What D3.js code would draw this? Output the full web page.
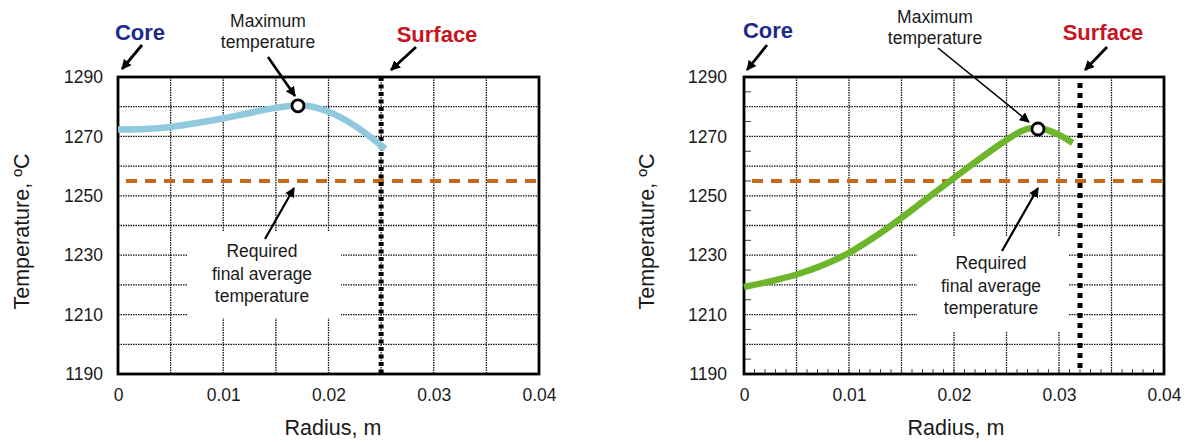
<!DOCTYPE html>
<html>
<head>
<meta charset="utf-8">
<script src="https://cdn.jsdelivr.net/npm/d3@7"></script>
<style>
  body { margin: 0; background: #fff; }
  svg { display: block; font-family: "Liberation Sans", Arial, sans-serif; }
</style>
</head>
<body>
<svg id="chart" width="1187" height="442"></svg>
<script>
// --- DATA ---
const xTicks = [0, 0.01, 0.02, 0.03, 0.04];
const yTicks = [1190, 1210, 1230, 1250, 1270, 1290];
const gridRadius = [0.005, 0.01, 0.015, 0.02, 0.025, 0.03, 0.035];
const gridTemp = [1200, 1210, 1220, 1230, 1240, 1250, 1260, 1270, 1280];
const minorTemp = [1195, 1205, 1215, 1225, 1235, 1245, 1255, 1265, 1275, 1285];
const requiredTemp = 1255;

// left panel
const leftRadius = [0, 0.0025, 0.005, 0.0075, 0.01, 0.0125, 0.015, 0.0175, 0.02, 0.0225, 0.0254];
const leftTemp = [1272.3, 1272.5, 1273.2, 1274.5, 1276.1, 1277.9, 1279.6, 1280.5, 1278.3, 1273.6, 1265.8];
const leftMax = [0.0171, 1280.3];
const leftSurface = 0.025;

// right panel
const rightRadius = [0, 0.0025, 0.005, 0.0075, 0.01, 0.0125, 0.015, 0.0175, 0.02, 0.0225, 0.025, 0.0265, 0.0275, 0.0285, 0.03, 0.0313];
const rightTemp = [1219.3, 1221.2, 1223.5, 1226.6, 1230.8, 1236.3, 1242.6, 1249.3, 1256, 1262.6, 1268.8, 1271.9, 1272.8, 1272.5, 1270.5, 1267.8];
const rightMax = [0.028, 1272.5];
const rightSurface = 0.032;

const maxLabel = ["Maximum", "temperature"];
const reqLabel = ["Required", "final average", "temperature"];

const svg = d3.select("#chart");

svg.append("defs").append("marker")
    .attr("id", "arrow").attr("viewBox", "0 0 10 10")
    .attr("refX", 9).attr("refY", 5)
    .attr("markerWidth", 10).attr("markerHeight", 10)
    .attr("markerUnits", "userSpaceOnUse").attr("orient", "auto")
  .append("path").attr("d", "M0,0 L10,5 L0,10 z").attr("fill", "#000");

function arrow(g, x1, y1, x2, y2, w) {
    g.append("line")
        .attr("x1", x1).attr("y1", y1).attr("x2", x2).attr("y2", y2)
        .attr("stroke", "#000").attr("stroke-width", w)
        .attr("marker-end", "url(#arrow)");
}

function drawPanel(cfg) {
    const x = d3.scaleLinear().domain([0, 0.04]).range([cfg.left, cfg.right]);
    const y = d3.scaleLinear().domain([1190, 1290]).range([cfg.bottom, cfg.top]);
    const g = svg.append("g");

    // grid (dotted)
    g.selectAll(".gx").data(gridRadius).join("line")
        .attr("x1", d => x(d)).attr("x2", d => x(d))
        .attr("y1", y(1290)).attr("y2", y(1190))
        .attr("stroke", "#111").attr("stroke-width", 1.3).attr("stroke-dasharray", "1.5,1");
    g.selectAll(".gy").data(gridTemp).join("line")
        .attr("x1", x(0)).attr("x2", x(0.04))
        .attr("y1", d => y(d)).attr("y2", d => y(d))
        .attr("stroke", "#111").attr("stroke-width", 1.3).attr("stroke-dasharray", "1.5,1");

    // minor ticks (right panel only)
    if (cfg.minor) {
        g.selectAll(".my").data(minorTemp).join("line")
            .attr("x1", x(0)).attr("x2", x(0) + 7)
            .attr("y1", d => y(d)).attr("y2", d => y(d))
            .attr("stroke", "#444").attr("stroke-width", 1);
        const minorR = d3.range(1, 40).map(i => i / 1000);
        g.selectAll(".mx").data(minorR).join("line")
            .attr("x1", d => x(d)).attr("x2", d => x(d))
            .attr("y1", y(1190)).attr("y2", y(1190) - 5)
            .attr("stroke", "#444").attr("stroke-width", 1);
    }

    // white box behind "Required..." text
    g.append("rect")
        .attr("x", cfg.mask[0]).attr("y", cfg.mask[1])
        .attr("width", cfg.mask[2]).attr("height", cfg.mask[3])
        .attr("fill", "#fff");

    // frame
    g.append("rect")
        .attr("x", x(0)).attr("y", y(1290))
        .attr("width", x(0.04) - x(0)).attr("height", y(1190) - y(1290))
        .attr("fill", "none").attr("stroke", "#000").attr("stroke-width", 2.8);

    // axes
    const yAxis = g.append("g").attr("transform", `translate(${x(0)},0)`)
        .call(d3.axisLeft(y).tickValues(yTicks).tickSize(0).tickPadding(cfg.yPad)
            .tickFormat(d3.format("d")));
    const xAxis = g.append("g").attr("transform", `translate(0,${y(1190)})`)
        .call(d3.axisBottom(x).tickValues(xTicks).tickSize(0).tickPadding(15)
            .tickFormat(d => d === 0 ? "0" : String(d)));
    [yAxis, xAxis].forEach(a => {
        a.select(".domain").remove();
        a.selectAll("text").attr("font-size", 17.5).attr("fill", "#1a1a1a")
            .attr("font-family", "'Liberation Sans', Arial, sans-serif");
    });

    // required average temperature
    g.append("line")
        .attr("x1", x(0) + 8).attr("x2", x(0.04))
        .attr("y1", y(requiredTemp)).attr("y2", y(requiredTemp))
        .attr("stroke", "#c56a16").attr("stroke-width", 4).attr("stroke-dasharray", "11,8");

    // surface
    g.append("line")
        .attr("x1", x(cfg.surface)).attr("x2", x(cfg.surface))
        .attr("y1", y(1290) + cfg.surfTop).attr("y2", y(1190))
        .attr("stroke", "#000").attr("stroke-width", 5).attr("stroke-dasharray", cfg.surfDash);

    // temperature profile
    const line = d3.line().x((d, i) => x(cfg.radius[i])).y(d => y(d))
        .curve(d3.curveCatmullRom.alpha(0.5));
    g.append("path").datum(cfg.temp)
        .attr("d", line)
        .attr("fill", "none").attr("stroke", cfg.color).attr("stroke-width", 6.5);

    // maximum marker
    g.append("circle")
        .attr("cx", x(cfg.max[0])).attr("cy", y(cfg.max[1])).attr("r", 6)
        .attr("fill", "#fff").attr("stroke", "#000").attr("stroke-width", 2.8);

    // labels
    g.append("text").text("Core")
        .attr("x", cfg.coreX).attr("y", cfg.labelY).attr("text-anchor", "middle")
        .attr("font-size", 22).attr("font-weight", "bold").attr("fill", "#1f2a8a");
    g.append("text").text("Surface")
        .attr("x", cfg.surfX).attr("y", cfg.labelY + 2).attr("text-anchor", "middle")
        .attr("font-size", 22).attr("font-weight", "bold").attr("fill", "#c8141f");

    g.append("text").attr("text-anchor", "middle").attr("font-size", 17.5).attr("fill", "#1a1a1a")
        .selectAll("tspan").data(maxLabel).join("tspan")
        .attr("x", cfg.maxX).attr("y", (d, i) => cfg.maxY + i * 21).text(d => d);

    g.append("text").attr("text-anchor", "middle").attr("font-size", 17.5).attr("fill", "#1a1a1a")
        .selectAll("tspan").data(reqLabel).join("tspan")
        .attr("x", cfg.reqX).attr("y", (d, i) => cfg.reqY + i * 22.5).text(d => d);

    // arrows
    cfg.arrows.forEach(a => arrow(g, a[0], a[1], a[2], a[3], a[4]));

    // axis titles
    g.append("text").text("Temperature, \u00baC")
        .attr("transform", `translate(${cfg.yTitleX},${(y(1290) + y(1190)) / 2 + 6}) rotate(-90)`)
        .attr("text-anchor", "middle").attr("font-size", 21.5).attr("fill", "#1a1a1a");
    g.append("text").text("Radius, m")
        .attr("x", cfg.xTitleX).attr("y", 435).attr("text-anchor", "middle")
        .attr("font-size", 21.5).attr("fill", "#1a1a1a");
}

drawPanel({
    left: 118, right: 539, top: 77, bottom: 374,
    radius: leftRadius, temp: leftTemp, max: leftMax, surface: leftSurface,
    color: "#90c8de", minor: false, yPad: 15,
    surfTop: 0, surfDash: "4,3.5",
    mask: [188, 231, 153, 87],
    coreX: 140, surfX: 437, labelY: 40,
    maxX: 268, maxY: 27, reqX: 262, reqY: 257,
    arrows: [
        [142, 45, 122, 69, 2.8],
        [416, 47, 391, 70, 2.8],
        [268, 57, 295, 96, 2.6],
        [265, 239, 294, 188, 2.2]
    ],
    yTitleX: 29, xTitleX: 333
});

drawPanel({
    left: 744, right: 1164, top: 77, bottom: 374,
    radius: rightRadius, temp: rightTemp, max: rightMax, surface: rightSurface,
    color: "#6db52a", minor: true, yPad: 17,
    surfTop: 6, surfDash: "5,5",
    mask: [917, 236, 151, 96],
    coreX: 768, surfX: 1103, labelY: 38,
    maxX: 935, maxY: 23, reqX: 991, reqY: 269,
    arrows: [
        [767, 45, 747, 70, 2.8],
        [1107, 47, 1085, 70, 2.8],
        [938, 48, 1029, 122, 1.6],
        [1002, 251, 1038, 188, 2.2]
    ],
    yTitleX: 654, xTitleX: 956
});
</script>
</body>
</html>
